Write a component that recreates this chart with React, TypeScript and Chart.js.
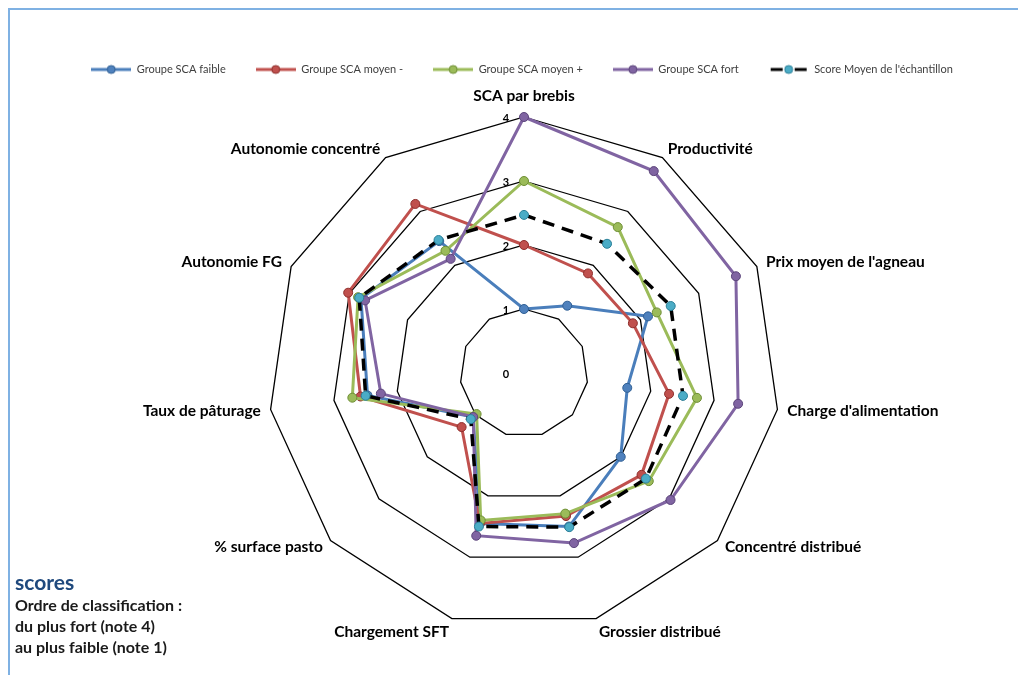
import React, { useEffect, useRef } from "react";
import { Chart, registerables } from "chart.js";

Chart.register(...registerables);

const CATEGORIES = [
  "SCA par brebis",
  "Productivité",
  "Prix moyen de l'agneau",
  "Charge d'alimentation",
  "Concentré distribué",
  "Grossier distribué",
  "Chargement SFT",
  "% surface pasto",
  "Taux de pâturage",
  "Autonomie FG",
  "Autonomie concentré",
];

const SERIES_NAMES = [
  "Groupe SCA faible",
  "Groupe SCA moyen -",
  "Groupe SCA moyen +",
  "Groupe SCA fort",
  "Score Moyen de l'échantillon",
];

const SCA_FAIBLE = [1.0, 1.25, 2.13, 1.63, 2.0, 2.5, 2.45, 1.05, 2.47, 2.8, 2.45];
const SCA_MOYEN_MOINS = [2.0, 1.85, 1.87, 2.29, 2.43, 2.33, 2.45, 1.29, 2.58, 3.02, 3.14];
const SCA_MOYEN_PLUS = [3.0, 2.71, 2.28, 2.73, 2.58, 2.29, 2.4, 0.98, 2.71, 2.85, 2.27];
const SCA_FORT = [4.0, 3.75, 3.64, 3.38, 3.03, 2.77, 2.65, 1.05, 2.26, 2.73, 2.12];
const SCORE_MOYEN = [2.47, 2.4, 2.52, 2.51, 2.52, 2.51, 2.5, 1.1, 2.5, 2.83, 2.47];

const TICK_VALUES = [0, 1, 2, 3, 4];
const SCALE_MAX = 4;

const NOTE_TITLE = "scores";
const NOTE_LINES = ["Ordre de classification :", "du plus fort (note 4)", "au plus faible (note 1)"];

// layout (canvas coordinates)
const CX = 514;
const CY = 363;
const RADIUS = 256;

const COLORS = ["#4A7EBB", "#C0504D", "#9BBB59", "#8064A2", "#000000"];
const POINT_COLORS = ["#4F81BD", "#C0504D", "#9BBB59", "#8064A2", "#4BACC6"];
const POINT_BORDERS = ["#2F5F94", "#8E2E2B", "#6E8E35", "#5B447A", "#2B8098"];

function makeMarker(i: number): HTMLCanvasElement {
  const c = document.createElement("canvas");
  c.width = 40;
  c.height = 12;
  const ctx = c.getContext("2d")!;
  ctx.lineWidth = 3;
  ctx.strokeStyle = COLORS[i];
  if (i === 4) {
    ctx.beginPath();
    ctx.moveTo(2, 6);
    ctx.lineTo(14, 6);
    ctx.moveTo(26, 6);
    ctx.lineTo(38, 6);
    ctx.stroke();
  } else {
    ctx.beginPath();
    ctx.moveTo(0, 6);
    ctx.lineTo(40, 6);
    ctx.stroke();
  }
  ctx.fillStyle = POINT_COLORS[i];
  ctx.strokeStyle = POINT_BORDERS[i];
  ctx.lineWidth = 1;
  ctx.beginPath();
  ctx.arc(20, 6, 4, 0, Math.PI * 2);
  ctx.fill();
  ctx.stroke();
  return c;
}

const labelPlugin = {
  id: "customLabels",
  afterDraw(chart: any) {
    const s = chart.scales.r;
    const ctx = chart.ctx;
    ctx.save();
    ctx.fillStyle = "#000";
    ctx.font = "bold 15.5px Lato";
    ctx.textBaseline = "middle";
    const n = CATEGORIES.length;
    for (let i = 0; i < n; i++) {
      const p = s.getPointPosition(i, s.getDistanceFromCenterForValue(SCALE_MAX) + 10);
      const dx = p.x - s.xCenter;
      const dy = p.y - s.yCenter;
      let y = p.y;
      if (Math.abs(dx) < 2) {
        ctx.textAlign = "center";
        y = p.y - 11;
      } else {
        ctx.textAlign = dx > 0 ? "left" : "right";
        if (dy / (RADIUS + 10) > 0.9) y += 4;
      }
      ctx.fillText(CATEGORIES[i], p.x, y);
    }
    ctx.font = "bold 11px Lato";
    ctx.textAlign = "center";
    for (const v of TICK_VALUES) {
      const p = s.getPointPosition(0, s.getDistanceFromCenterForValue(v));
      ctx.fillText(String(v), s.xCenter - 18, p.y + 1);
    }
    ctx.restore();
  },
};

export default function App() {
  const ref = useRef<HTMLCanvasElement>(null);

  useEffect(() => {
    const markers = [0, 1, 2, 3, 4].map(makeMarker);
    const seriesData = [SCA_FAIBLE, SCA_MOYEN_MOINS, SCA_MOYEN_PLUS, SCA_FORT, SCORE_MOYEN];
    const datasets = seriesData.map((d, i) => ({
      label: SERIES_NAMES[i],
      data: d,
      borderColor: COLORS[i],
      backgroundColor: "transparent",
      borderWidth: i === 4 ? 3.5 : 3,
      borderDash: i === 4 ? [12, 8] : [],
      pointRadius: 4.5,
      pointBackgroundColor: POINT_COLORS[i],
      pointBorderColor: POINT_BORDERS[i],
      pointBorderWidth: 1,
      fill: false,
      tension: 0,
      order: 5 - i,
      clip: false as any,
    }));

    const chart = new Chart(ref.current!, {
      type: "radar",
      data: { labels: CATEGORIES, datasets },
      options: {
        responsive: false,
        animation: false,
        layout: { padding: { top: 24, left: 16 } },
        plugins: {
          legend: {
            position: "top",
            labels: {
              usePointStyle: true,
              pointStyleWidth: 40,
              padding: 30,
              color: "#404040",
              font: { family: "Lato", size: 11 },
              sort: (a: any, b: any) => a.datasetIndex - b.datasetIndex,
              generateLabels: (c: any) => {
                const items = (Chart.defaults.plugins.legend.labels as any).generateLabels(c);
                return items.map((it: any) => ({ ...it, pointStyle: markers[it.datasetIndex] }));
              },
            },
          },
          tooltip: { enabled: false },
        },
        scales: {
          r: {
            min: 0,
            max: SCALE_MAX,
            ticks: { display: false, stepSize: 1 },
            pointLabels: { display: false },
            angleLines: { display: false },
            grid: { color: "#000", lineWidth: 1.3, circular: false },
            afterFit: (scale: any) => {
              scale.xCenter = CX;
              scale.yCenter = CY;
              scale.drawingArea = RADIUS;
            },
          } as any,
        },
      },
      plugins: [labelPlugin],
    });
    return () => chart.destroy();
  }, []);

  return (
    <div
      style={{
        position: "relative",
        width: 1010,
        height: 667,
        boxSizing: "border-box",
        borderTop: "2px solid #7FB1E3",
        borderLeft: "2px solid #7FB1E3",
        fontFamily: "Lato",
      }}
    >
      <canvas ref={ref} width={1008} height={665} style={{ position: "absolute", left: 0, top: 0 }} />
      <div style={{ position: "absolute", left: 5, top: 560 }}>
        <div style={{ fontSize: 21, fontWeight: 700, color: "#1F497D", lineHeight: "24px" }}>{NOTE_TITLE}</div>
        {NOTE_LINES.map((t) => (
          <div key={t} style={{ fontSize: 16, fontWeight: 700, color: "#1a1a1a", lineHeight: "21px" }}>
            {t}
          </div>
        ))}
      </div>
    </div>
  );
}
